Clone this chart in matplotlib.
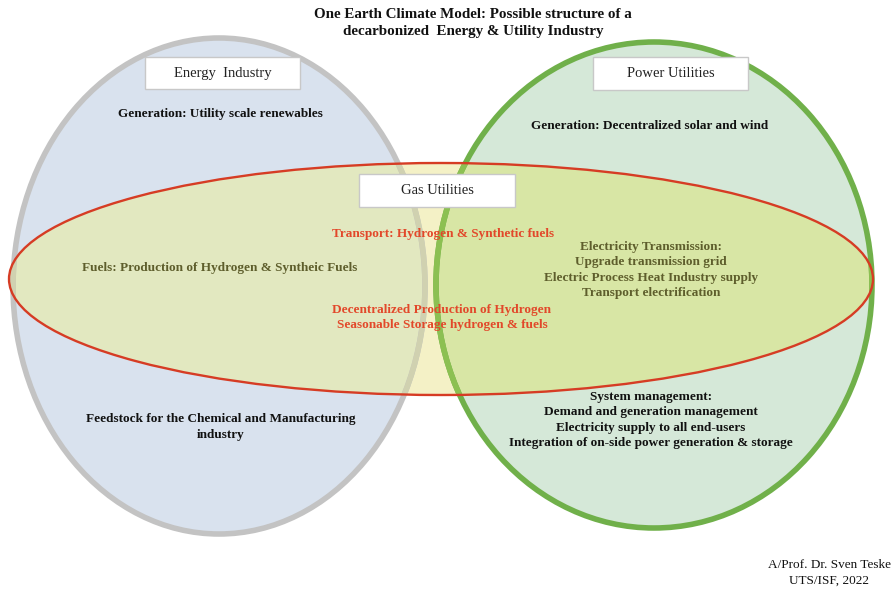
import matplotlib
matplotlib.use("Agg")
import matplotlib.pyplot as plt
from matplotlib.patches import Ellipse, Rectangle

plt.rcParams['font.family'] = ['Liberation Serif', 'DejaVu Serif']

title_lines = ["One Earth Climate Model: Possible structure of a",
               "decarbonized  Energy & Utility Industry"]
group_names = ["Energy  Industry", "Power Utilities", "Gas Utilities"]

energy_text = ["Generation: Utility scale renewables"]
energy_bottom = ["Feedstock for the Chemical and Manufacturing", "industry"]
power_text = ["Generation: Decentralized solar and wind"]
power_bottom = ["System management:",
                "Demand and generation management",
                "Electricity supply to all end-users",
                "Integration of on-side power generation & storage"]
gas_left = ["Fuels: Production of Hydrogen & Syntheic Fuels"]
gas_mid_top = ["Transport: Hydrogen & Synthetic fuels"]
gas_mid_bottom = ["Decentralized Production of Hydrogen",
                  "Seasonable Storage hydrogen & fuels"]
gas_right = ["Electricity Transmission:",
             "Upgrade transmission grid",
             "Electric Process Heat Industry supply",
             "Transport electrification"]
credit = ["A/Prof. Dr. Sven Teske", "UTS/ISF, 2022"]

W, H = 893, 589
fig = plt.figure(figsize=(W / 100, H / 100), dpi=100)
ax = fig.add_axes([0, 0, 1, 1])
ax.set_xlim(0, W)
ax.set_ylim(H, 0)
ax.axis('off')

# circles (pixel coordinates, y downwards)
left = dict(xy=(219, 286), width=412, height=496)
right = dict(xy=(654, 285), width=436, height=486)
gas = dict(xy=(441, 279), width=864, height=232)

blue = '#d9e2ee'
green = '#d5e8d8'
ax.add_patch(Ellipse(**left, facecolor=blue, edgecolor='none', zorder=1))
ax.add_patch(Ellipse(**right, facecolor=green, edgecolor='none', zorder=1))

# gas ellipse fill, three tones depending on what lies below
ax.add_patch(Ellipse(**gas, facecolor='#f4f1c6', edgecolor='none', zorder=2))
clip_l = Ellipse(**left, transform=ax.transData)
clip_r = Ellipse(**right, transform=ax.transData)
p = ax.add_patch(Ellipse(**gas, facecolor='#e2e8c0', edgecolor='none', zorder=3))
p.set_clip_path(clip_l)
p = ax.add_patch(Ellipse(**gas, facecolor='#d8e6a5', edgecolor='none', zorder=3))
p.set_clip_path(clip_r)

# circle outlines, muted where the gas ellipse covers them
ax.add_patch(Ellipse(**left, facecolor='none', edgecolor='#c3c3c3', lw=4, zorder=4))
ax.add_patch(Ellipse(**right, facecolor='none', edgecolor='#70b04a', lw=4, zorder=4))
clip_g = Ellipse(**gas, transform=ax.transData)
p = ax.add_patch(Ellipse(**left, facecolor='none', edgecolor='#d0d1b0', lw=4, zorder=5))
p.set_clip_path(clip_g)
p = ax.add_patch(Ellipse(**right, facecolor='none', edgecolor='#8cc052', lw=4, zorder=5))
p.set_clip_path(clip_g)

ax.add_patch(Ellipse(**gas, facecolor='none', edgecolor='#d63c24', lw=1.7, zorder=7))

# group name boxes
boxes = [(145, 57, 155, 32), (593, 57, 155, 33), (359, 174, 156, 33)]
for (bx, by, bw, bh), name in zip(boxes, group_names):
    ax.add_patch(Rectangle((bx, by), bw, bh, facecolor='white',
                           edgecolor='#c8c8c8', lw=1, zorder=8))
    ax.text(bx + bw / 2, by + bh / 2, name, ha='center', va='center',
            fontsize=10.5, color='#222222', zorder=9)


def lines(x, y, items, color, step=15.3, size=9.5):
    for i, s in enumerate(items):
        ax.text(x, y + i * step, s, ha='center', va='center', fontsize=size,
                fontweight='bold', color=color, zorder=9)


for i, s in enumerate(title_lines):
    ax.text(473, 14 + i * 18, s, ha='center', va='center', fontsize=10.8,
            fontweight='bold', color='#111111', zorder=9)

black = '#111111'
olive = '#5e5e2c'
red = '#e2482a'
lines(220, 114, energy_text, black)
lines(221, 419, energy_bottom, black, step=16)
lines(650, 126, power_text, black)
lines(651, 397, power_bottom, black)
lines(220, 268, gas_left, olive)
lines(443, 234, gas_mid_top, red)
lines(442, 310, gas_mid_bottom, red)
lines(651, 247, gas_right, olive)

for i, s in enumerate(credit):
    ax.text(829, 565 + i * 16, s, ha='center', va='center', fontsize=9.5,
            color=black, zorder=9)

fig.savefig('out.png', dpi=100, facecolor='white')
